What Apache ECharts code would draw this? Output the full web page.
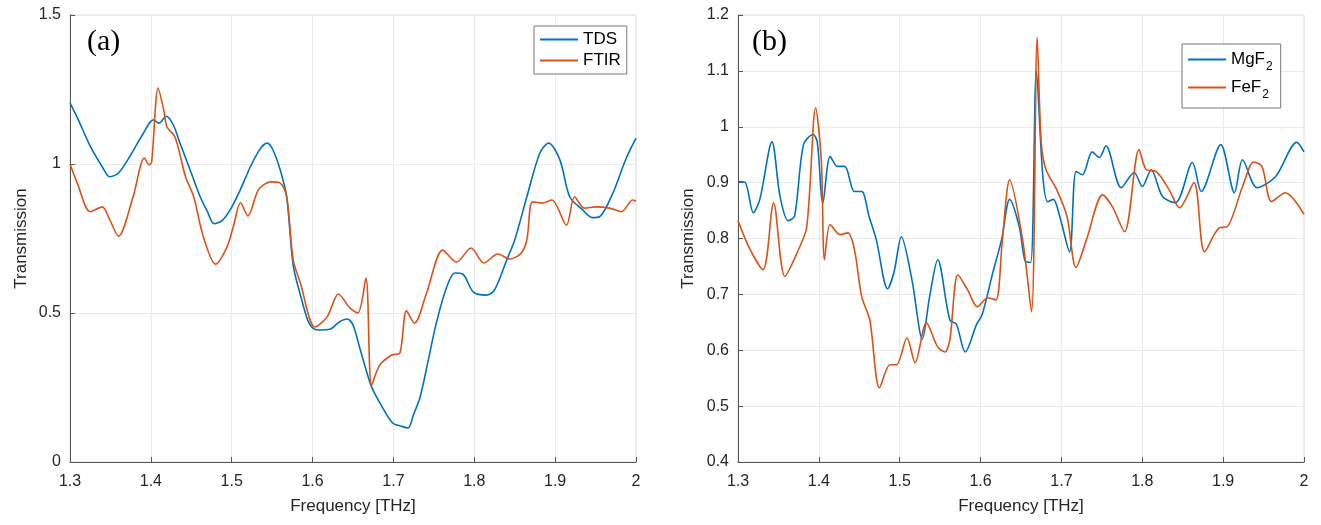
<!DOCTYPE html>
<html>
<head>
<meta charset="utf-8">
<script src="https://cdn.jsdelivr.net/npm/echarts@6/dist/echarts.min.js"></script>
<style>
  html, body { margin: 0; padding: 0; background: #fff; }
  #chart { width: 1321px; height: 525px; }
</style>
</head>
<body>
<div id="chart"></div>
<script>
// (a) TDS vs FTIR
var tdsFreq = [1.300,1.310,1.325,1.340,1.349,1.360,1.375,1.390,1.403,1.410,1.419,1.428,1.436,1.450,1.461,1.470,1.478,1.488,1.498,1.510,1.523,1.535,1.544,1.551,1.560,1.568,1.576,1.585,1.594,1.600,1.607,1.622,1.633,1.643,1.650,1.658,1.665,1.673,1.685,1.699,1.710,1.718,1.725,1.733,1.743,1.753,1.766,1.776,1.786,1.799,1.815,1.825,1.840,1.850,1.865,1.881,1.892,1.906,1.918,1.934,1.946,1.955,1.971,1.988,2.000];
var tdsVal = [1.205,1.15,1.06,0.99,0.957,0.97,1.03,1.10,1.148,1.137,1.16,1.13,1.07,0.97,0.89,0.84,0.80,0.81,0.846,0.91,0.99,1.05,1.07,1.047,0.98,0.89,0.66,0.56,0.476,0.45,0.443,0.446,0.47,0.48,0.46,0.386,0.32,0.252,0.19,0.131,0.12,0.114,0.16,0.218,0.34,0.466,0.588,0.634,0.63,0.57,0.56,0.577,0.677,0.745,0.89,1.036,1.07,1.013,0.89,0.846,0.82,0.823,0.90,1.02,1.087];

var ftirFreq = [1.300,1.309,1.325,1.340,1.348,1.360,1.378,1.392,1.398,1.401,1.409,1.416,1.420,1.430,1.443,1.453,1.465,1.480,1.494,1.502,1.511,1.520,1.533,1.548,1.560,1.568,1.576,1.585,1.603,1.618,1.632,1.646,1.656,1.666,1.673,1.683,1.698,1.708,1.716,1.726,1.741,1.761,1.778,1.796,1.812,1.829,1.844,1.858,1.865,1.872,1.885,1.896,1.914,1.924,1.936,1.951,1.967,1.982,1.996,2.000];
var ftirVal = [1.0,0.936,0.84,0.856,0.82,0.758,0.89,1.02,0.997,1.007,1.255,1.18,1.124,1.09,0.956,0.89,0.755,0.664,0.72,0.79,0.87,0.826,0.913,0.94,0.936,0.89,0.678,0.60,0.453,0.487,0.564,0.517,0.50,0.617,0.258,0.325,0.359,0.366,0.507,0.466,0.567,0.711,0.671,0.718,0.668,0.698,0.681,0.701,0.745,0.873,0.869,0.879,0.795,0.89,0.852,0.856,0.852,0.84,0.879,0.875];

// (b) MgF2 vs FeF2
var mgFreq = [1.300,1.309,1.319,1.327,1.342,1.352,1.362,1.370,1.381,1.393,1.398,1.405,1.414,1.423,1.432,1.444,1.453,1.462,1.471,1.485,1.493,1.502,1.515,1.528,1.537,1.547,1.562,1.570,1.581,1.595,1.602,1.615,1.626,1.636,1.648,1.655,1.662,1.669,1.677,1.683,1.690,1.698,1.710,1.718,1.726,1.738,1.747,1.755,1.774,1.790,1.800,1.811,1.825,1.841,1.862,1.873,1.897,1.914,1.924,1.942,1.965,1.991,2.000];
var mgVal = [0.902,0.9,0.846,0.87,0.973,0.875,0.832,0.84,0.968,0.986,0.973,0.864,0.947,0.929,0.929,0.884,0.884,0.84,0.798,0.71,0.74,0.803,0.727,0.62,0.696,0.762,0.654,0.647,0.597,0.646,0.664,0.738,0.798,0.87,0.82,0.76,0.757,1.10,0.911,0.866,0.87,0.839,0.776,0.92,0.914,0.955,0.945,0.966,0.891,0.918,0.893,0.923,0.875,0.864,0.936,0.884,0.968,0.882,0.941,0.891,0.911,0.972,0.955];

var feFreq = [1.300,1.315,1.331,1.344,1.358,1.373,1.385,1.396,1.403,1.407,1.414,1.426,1.436,1.444,1.453,1.463,1.475,1.488,1.496,1.509,1.519,1.533,1.547,1.556,1.562,1.572,1.584,1.596,1.609,1.619,1.627,1.636,1.652,1.663,1.670,1.675,1.681,1.694,1.707,1.718,1.731,1.751,1.763,1.778,1.796,1.805,1.817,1.833,1.846,1.864,1.877,1.895,1.905,1.924,1.938,1.948,1.960,1.977,2.000];
var feVal = [0.832,0.78,0.744,0.864,0.732,0.774,0.821,1.034,0.941,0.762,0.825,0.807,0.81,0.78,0.696,0.654,0.533,0.574,0.574,0.622,0.578,0.649,0.606,0.597,0.619,0.735,0.708,0.678,0.694,0.69,0.798,0.905,0.798,0.669,1.16,0.972,0.923,0.888,0.839,0.748,0.798,0.878,0.857,0.812,0.959,0.923,0.92,0.888,0.855,0.9,0.776,0.819,0.821,0.893,0.937,0.929,0.866,0.882,0.843];

var xTicks = { min: 1.3, max: 2, interval: 0.1 };
var yTicksA = { min: 0, max: 1.5, interval: 0.5 };
var yTicksB = { min: 0.4, max: 1.2, interval: 0.1 };

var FONT = "'Liberation Sans', Arial, sans-serif";
var BLUE = '#0072BD';
var ORANGE = '#D95319';

function zip(xs, ys) {
    return xs.map(function (x, i) { return [x, ys[i]]; });
}

function xAxisOf(gridIndex) {
    return {
        type: 'value', gridIndex: gridIndex,
        min: xTicks.min, max: xTicks.max, interval: xTicks.interval,
        name: 'Frequency [THz]', nameLocation: 'middle', nameGap: 36,
        nameTextStyle: { fontFamily: FONT, fontSize: 17, color: '#262626' },
        axisLine: { onZero: false, lineStyle: { color: '#555', width: 1 } },
        axisTick: { inside: true, length: 5, lineStyle: { color: '#555' } },
        axisLabel: { fontFamily: FONT, fontSize: 16, color: '#262626', margin: 12 },
        splitLine: { show: true, lineStyle: { color: '#ebebeb' } }
    };
}

function yAxisOf(gridIndex, t, gap) {
    return {
        type: 'value', gridIndex: gridIndex,
        min: t.min, max: t.max, interval: t.interval,
        name: 'Transmission', nameLocation: 'middle', nameGap: gap,
        nameTextStyle: { fontFamily: FONT, fontSize: 17, color: '#262626' },
        axisLine: { show: true, onZero: false, lineStyle: { color: '#555', width: 1 } },
        axisTick: { show: true, inside: true, length: 5, lineStyle: { color: '#555' } },
        axisLabel: { fontFamily: FONT, fontSize: 16, color: '#262626', margin: 9 },
        splitLine: { show: true, lineStyle: { color: '#ebebeb' } }
    };
}

function lineSeries(name, color, xi, xs, ys) {
    return {
        name: name, type: 'line', xAxisIndex: xi, yAxisIndex: xi,
        data: zip(xs, ys), showSymbol: false, smooth: 0.3,
        lineStyle: { color: color, width: 1.6 }, itemStyle: { color: color },
        animation: false
    };
}

var legendBase = {
    orient: 'vertical', icon: 'rect', itemWidth: 38, itemHeight: 2,
    borderColor: '#777', borderWidth: 1, backgroundColor: '#fff',
    selectedMode: false
};

var chart = echarts.init(document.getElementById('chart'));
chart.setOption({
    backgroundColor: '#fff',
    animation: false,
    grid: [
        { left: 70, right: 685, top: 15, bottom: 63, show: true, borderColor: '#dcdcdc', borderWidth: 1 },
        { left: 738, right: 17, top: 15, bottom: 63, show: true, borderColor: '#dcdcdc', borderWidth: 1 }
    ],
    xAxis: [xAxisOf(0), xAxisOf(1)],
    yAxis: [yAxisOf(0, yTicksA, 40), yAxisOf(1, yTicksB, 41)],
    legend: [
        Object.assign({}, legendBase, {
            data: ['TDS', 'FTIR'], left: 534, top: 26,
            padding: [5, 6, 5, 6], itemGap: 4,
            textStyle: { fontFamily: FONT, fontSize: 17, color: '#000' }
        }),
        Object.assign({}, legendBase, {
            data: ['MgF2', 'FeF2'], left: 1182, top: 44,
            padding: [7, 8, 7, 6], itemGap: 6,
            formatter: function (n) { return n.slice(0, -1) + '{sub|' + n.slice(-1) + '}'; },
            textStyle: {
                fontFamily: FONT, fontSize: 17, color: '#000',
                rich: { sub: { fontFamily: FONT, fontSize: 12, color: '#000', padding: [15, 0, 0, 1] } }
            }
        })
    ],
    graphic: [
        { type: 'text', left: 87, top: 27, style: { text: '(a)', font: '30px "Liberation Serif", "Times New Roman", serif', fill: '#000' } },
        { type: 'text', left: 752, top: 27, style: { text: '(b)', font: '30px "Liberation Serif", "Times New Roman", serif', fill: '#000' } }
    ],
    series: [
        lineSeries('TDS', BLUE, 0, tdsFreq, tdsVal),
        lineSeries('FTIR', ORANGE, 0, ftirFreq, ftirVal),
        lineSeries('MgF2', BLUE, 1, mgFreq, mgVal),
        lineSeries('FeF2', ORANGE, 1, feFreq, feVal)
    ]
});
</script>
</body>
</html>
